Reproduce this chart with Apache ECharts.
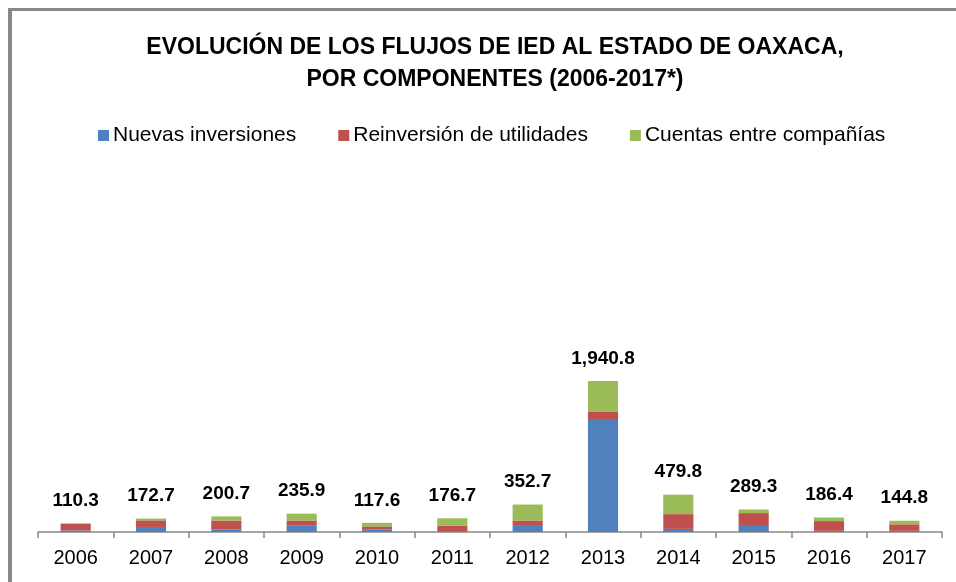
<!DOCTYPE html>
<html>
<head>
<meta charset="utf-8">
<script src="https://cdn.jsdelivr.net/npm/echarts@6/dist/echarts.min.js"></script>
<style>
  html, body { margin: 0; padding: 0; background: #fff; }
  .frame {
    position: absolute; left: 8px; top: 8px;
    width: 960px; height: 600px;
    border-left: 4px solid #888; border-top: 3px solid #888;
  }
  #chart { position: absolute; left: 0; top: 0; width: 956px; height: 582px; }
</style>
</head>
<body>
<div class="frame"></div>
<div id="chart"></div>
<script>
const years = ['2006','2007','2008','2009','2010','2011','2012','2013','2014','2015','2016','2017'];
const nuevas = [20, 65, 35, 88, 30, 5, 78, 1452, 40, 78, 15, 15];
const reinversion = [88, 85, 113, 60, 42, 78, 70, 98, 190, 165, 125, 84];
const cuentas = [2.3, 22.7, 52.7, 87.9, 45.6, 93.7, 204.7, 390.8, 249.8, 46.3, 46.4, 45.8];
const totales = [110.3, 172.7, 200.7, 235.9, 117.6, 176.7, 352.7, 1940.8, 479.8, 289.3, 186.4, 144.8];

const font = '"Liberation Sans", Arial, sans-serif';
const fmt = v => v.toLocaleString('en-US', { minimumFractionDigits: 1, maximumFractionDigits: 1 });

const chart = echarts.init(document.getElementById('chart'));
chart.setOption({
  animation: false,
  title: {
    text: 'EVOLUCIÓN DE LOS FLUJOS DE IED AL ESTADO DE OAXACA,\nPOR COMPONENTES (2006-2017*)',
    left: 490, top: 27, textAlign: 'center',
    textStyle: { fontFamily: font, fontSize: 23, fontWeight: 'bold', color: '#000', lineHeight: 32 }
  },
  legend: {
    top: 120, left: 93,
    itemWidth: 11, itemHeight: 11, itemGap: 42,
    icon: 'rect',
    textStyle: { fontFamily: font, fontSize: 21, color: '#000', padding: [0, 0, 0, -1] },
    data: ['Nuevas inversiones', 'Reinversión de utilidades', 'Cuentas entre compañías']
  },
  grid: { left: 38, right: 14, top: 143, bottom: 50 },
  xAxis: {
    type: 'category',
    data: years,
    axisLine: { lineStyle: { color: '#888', width: 1.5 } },
    axisTick: { show: true, length: 6, lineStyle: { color: '#888', width: 1.5 } },
    axisLabel: { fontFamily: font, fontSize: 20, color: '#000', margin: 16 }
  },
  yAxis: { type: 'value', min: 0, max: 5000, show: false, splitLine: { show: false } },
  series: [
    { name: 'Nuevas inversiones', type: 'bar', stack: 'ied', data: nuevas, barCategoryGap: '60%',
      itemStyle: { color: '#4F81BD' } },
    { name: 'Reinversión de utilidades', type: 'bar', stack: 'ied', data: reinversion,
      itemStyle: { color: '#C0504D' } },
    { name: 'Cuentas entre compañías', type: 'bar', stack: 'ied', data: cuentas,
      itemStyle: { color: '#9BBB59' },
      label: {
        show: true, position: 'top', distance: 13,
        fontFamily: font, fontSize: 19, fontWeight: 'bold', color: '#000',
        formatter: p => fmt(totales[p.dataIndex])
      } }
  ]
});
</script>
</body>
</html>
